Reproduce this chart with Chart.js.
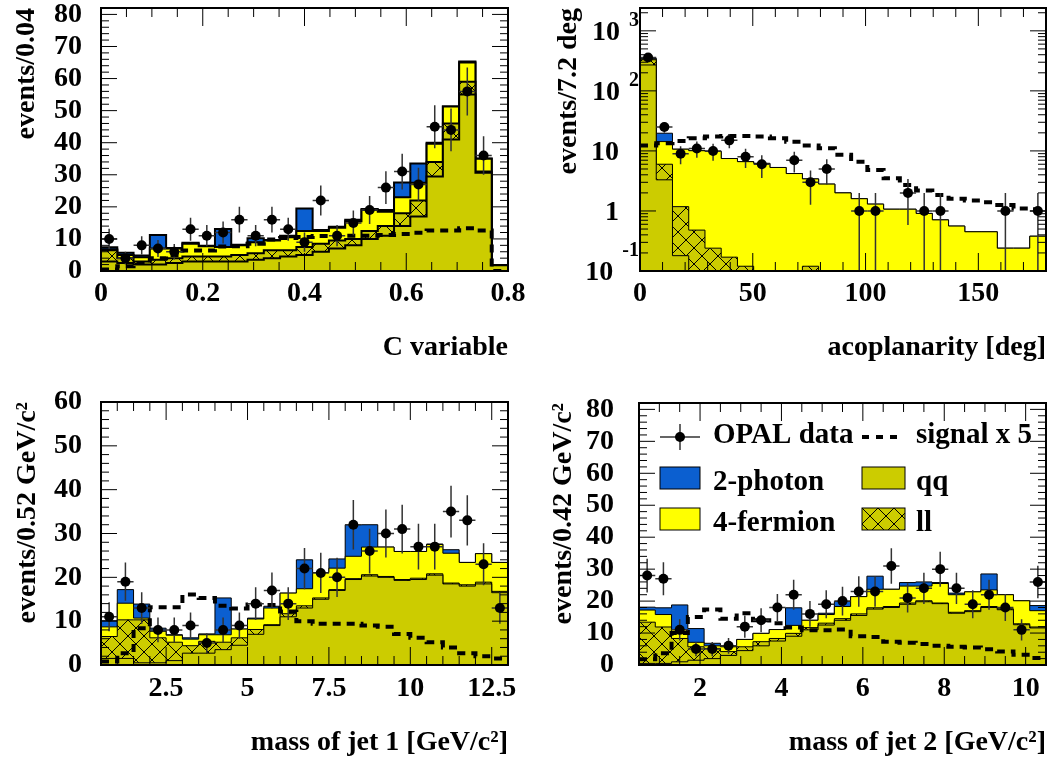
<!DOCTYPE html>
<html>
<head>
<meta charset="utf-8">
<script src="https://cdn.jsdelivr.net/npm/chart.js@4.4.1/dist/chart.umd.min.js"></script>
<style>
  body { margin: 0; background: #fff; }
  #fig { position: relative; width: 1052px; height: 761px; }
  #fig canvas { position: absolute; }
</style>
</head>
<body>
<div id="fig">
  <canvas id="cChart" width="526" height="380" style="left:0;top:0"></canvas>
  <canvas id="aChart" width="526" height="380" style="left:526px;top:0"></canvas>
  <canvas id="j1Chart" width="526" height="381" style="left:0;top:380px"></canvas>
  <canvas id="j2Chart" width="526" height="381" style="left:526px;top:380px"></canvas>
</div>
<script>
// ---- C variable (25 bins of 0.032) ----
const cLo = 0, cW = 0.032;
const cQQ = [3.0, 2.5, 2.0, 2.0, 2.5, 3.0, 3.0, 3.0, 3.0, 3.5, 4.0, 4.5, 5.0, 6.0, 7.0, 8.0, 10.0, 11.0, 14.0, 17.0, 29.5, 41.0, 55.0, 30.6, 1.8];
const cLL = [3.5, 1.5, 1.0, 1.5, 1.5, 1.5, 1.5, 1.5, 2.0, 2.0, 2.5, 2.0, 2.5, 2.5, 2.5, 2.0, 2.5, 3.0, 4.0, 5.0, 4.5, 5.0, 4.0, 0.4, 0];
const c4F = [0.3, 1.0, 1.3, 3.5, 3.0, 4.0, 3.2, 3.0, 3.0, 3.5, 3.0, 4.0, 5.0, 4.0, 4.0, 5.5, 6.5, 4.5, 5.0, 5.5, 5.7, 5.3, 6.0, 4.0, 0];
const c2G = [0.6, 0.7, 0.5, 4.2, 0.2, 0.3, 0.2, 5.6, 0.2, 1.2, 0.2, 0.5, 7.0, 0.3, 0.3, 0.5, 0.3, 0.5, 4.6, 6.0, 0.3, 0, 0.3, 0.1, 0];
const cSignal = [0.5, 1.5, 2.5, 4.0, 5.0, 6.4, 6.4, 7.6, 7.7, 8.5, 9.8, 10.3, 10.6, 10.9, 11.0, 11.0, 11.0, 11.2, 11.5, 11.9, 12.6, 12.6, 13.3, 12.6, 0];
const cData = [10, 4, 8, 7, 6, 13, 11, 12, 16, 11, 16, 13, 9, 22, 11, 15, 19, 26, 31, 27, 45, 44, 56, 36, 0];
const cXTicks = [0, 0.2, 0.4, 0.6, 0.8];
const cXLabels = ['0', '0.2', '0.4', '0.6', '0.8'];
const cYTicks = [0, 10, 20, 30, 40, 50, 60, 70, 80];
const cYLabels = ['0', '10', '20', '30', '40', '50', '60', '70', '80'];

// ---- acoplanarity (25 bins of 7.2 deg, log y) ----
const aLo = 0, aW = 7.2;
const aQQ = [270, 3.3, 0.18, 0, 0, 0, 0, 0, 0, 0, 0, 0, 0, 0, 0, 0, 0, 0, 0, 0, 0, 0, 0, 0, 0];
const aLL = [60, 2.7, 1.0, 0.48, 0.24, 0.17, 0.12, 0, 0, 0, 0.12, 0, 0, 0, 0, 0, 0, 0, 0, 0, 0, 0, 0, 0, 0];
const a4F = [10, 8.3, 9.5, 9.6, 9.6, 7.3, 6.5, 6.2, 5.3, 4.2, 3.3, 2.8, 2.0, 1.6, 1.3, 1.07, 1.07, 0.91, 0.71, 0.56, 0.45, 0.45, 0.24, 0.24, 0.38];
const a2G = [10, 5.4, 0, 0, 0, 0, 0, 0, 0, 0, 0, 0, 0, 0, 0, 0, 0, 0, 0, 0, 0, 0, 0, 0, 0];
const aSignal = [12.3, 13.4, 14.6, 16.3, 17.3, 17.8, 17.8, 17.3, 16.3, 14.2, 12.3, 11.1, 8.6, 6.6, 4.8, 3.5, 2.7, 2.2, 1.85, 1.6, 1.5, 1.4, 1.26, 1.1, 1.07];
const aData = [360, 25, 9, 11, 10, 15, 8, 6, 0, 7, 3, 5, 0, 1, 1, 0, 2, 1, 1, 0, 0, 0, 1, 0, 1];
const aXTicks = [0, 50, 100, 150];
const aXLabels = ['0', '50', '100', '150'];
const aYTicks = [0.1, 1, 10, 100, 1000];
const aYLabels = ['10^-1', '1', '10', '10^2', '10^3'];

// ---- mass of jet 1 (25 bins of 0.5) ----
const j1Lo = 0.5, j1W = 0.5;
const j1QQ = [1.5, 1.5, 0.5, 0.5, 1.0, 2.7, 2.7, 3.5, 4.5, 7.0, 9.0, 11.0, 13.0, 15.0, 17.0, 19.5, 20.3, 20.0, 19.3, 19.5, 20.5, 18.5, 18.0, 18.5, 16.5];
const j1LL = [5.0, 8.8, 9.8, 5.7, 4.2, 1.7, 2.7, 1.7, 1.7, 1.1, 0.2, 0.7, 0.5, 0.3, 0.2, 0.2, 0.3, 0.2, 0.2, 0.3, 0.3, 0.2, 0.3, 0.4, 0.3];
const j14F = [2.2, 3.8, 0.4, 1.5, 1.6, 1.5, 1.5, 1.7, 2.0, 2.4, 3.8, 4.7, 3.9, 5.8, 4.9, 5.1, 6.3, 6.7, 6.4, 6.1, 6.7, 6.8, 5.1, 6.5, 6.6];
const j12G = [1.4, 3.1, 3.2, 0.7, 0.1, 0.3, 0.2, 8.4, 0, 0.2, 0.4, 0, 6.6, 0, 2.1, 7.2, 5.1, 0, 0, 0, 0.1, 0.8, 0, 0, 0];
const j1Signal = [0.8, 2.7, 8.4, 13.2, 13.2, 16.1, 15.3, 13.5, 12.9, 13.8, 13.7, 12.2, 10.0, 9.4, 9.4, 9.4, 9.0, 8.7, 7.1, 6.2, 5.2, 4.0, 2.7, 2.0, 1.5];
const j1Data = [11, 19, 13, 8, 8, 9, 5, 8, 9, 14, 17, 14, 22, 21, 20, 32, 26, 30, 31, 27, 27, 35, 33, 23, 13];
const j1XTicks = [2.5, 5, 7.5, 10, 12.5];
const j1XLabels = ['2.5', '5', '7.5', '10', '12.5'];
const j1YTicks = [0, 10, 20, 30, 40, 50, 60];
const j1YLabels = ['0', '10', '20', '30', '40', '50', '60'];

// ---- mass of jet 2 (25 bins of 0.4) ----
const j2Lo = 0.5, j2W = 0.4;
const j2QQ = [0.5, 0.5, 1.0, 1.5, 2.0, 3.0, 4.5, 6.0, 7.5, 9.0, 11.0, 12.5, 14.0, 15.5, 17.5, 18.0, 19.0, 19.8, 19.2, 16.2, 16.7, 18.0, 17.3, 12.6, 11.6];
const j2LL = [12.9, 11.4, 7.3, 4.2, 3.2, 1.2, 1.2, 1.3, 0.8, 0.9, 0.7, 0.6, 0.5, 0.5, 0.4, 0.3, 0.4, 0.3, 0.2, 0.3, 0.3, 0.3, 0.3, 0.3, 0.3];
const j24F = [3.8, 3.9, 2.8, 1.4, 0.8, 1.5, 2.3, 2.6, 2.8, 2.5, 2.3, 2.7, 3.8, 5.4, 5.8, 5.4, 5.3, 4.6, 6.1, 5.5, 5.9, 5.2, 4.4, 7.2, 5.1];
const j22G = [0.9, 2.1, 7.7, 4.3, 0.8, 0, 0, 0, 0, 5.5, 0, 0.4, 1.6, 0, 4.1, 0, 1.1, 1.3, 0.3, 0.5, 0, 5.0, 0, 0, 1.6];
const j2Signal = [1.8, 3.7, 10.0, 15.0, 17.4, 14.5, 16.2, 14.0, 13.1, 11.7, 10.9, 10.9, 11.1, 9.0, 8.8, 7.3, 7.0, 6.6, 6.0, 5.7, 5.5, 4.9, 4.2, 3.2, 2.2];
const j2Data = [28, 27, 11, 5, 5, 6, 12, 14, 18, 22, 16, 19, 20, 23, 23, 31, 21, 24, 30, 24, 19, 22, 18, 11, 26];
const j2XTicks = [2, 4, 6, 8, 10];
const j2XLabels = ['2', '4', '6', '8', '10'];
const j2YTicks = [0, 10, 20, 30, 40, 50, 60, 70, 80];
const j2YLabels = ['0', '10', '20', '30', '40', '50', '60', '70', '80'];

const legendLabels = ['OPAL data', 'signal x 5', '2-photon', 'qq', '4-fermion', 'll'];

const FONT = 'Liberation Serif';
const OLIVE = '#cccc00', YELLOW = '#ffff00', BLUE = '#0b5fd0';

// cross hatch used for the ll background
function makeHatch() {
  const t = document.createElement('canvas');
  t.width = t.height = 16;
  const g = t.getContext('2d');
  g.fillStyle = OLIVE;
  g.fillRect(0, 0, 16, 16);
  g.strokeStyle = '#000';
  g.lineWidth = 1;
  g.beginPath();
  g.moveTo(0, 0); g.lineTo(16, 16);
  g.moveTo(16, 0); g.lineTo(0, 16);
  g.stroke();
  return g.createPattern(t, 'repeat');
}
const HATCH = makeHatch();

// sqrt(N) error bars, drawn just under the data markers
const errorBars = {
  id: 'errorBars',
  beforeDatasetDraw(chart, args) {
    const ds = chart.data.datasets[args.index];
    if (!ds.errorBars) return;
    const {ctx, chartArea: a, scales: {x, y}} = chart;
    ctx.save();
    ctx.beginPath();
    ctx.rect(a.left, a.top, a.right - a.left, a.bottom - a.top);
    ctx.clip();
    ctx.strokeStyle = '#333';
    ctx.lineWidth = 1.5;
    ds.data.forEach(d => {
      if (d.y == null) return;
      const e = Math.sqrt(d.y);
      const px = x.getPixelForValue(d.x), py = y.getPixelForValue(d.y);
      const hi = y.getPixelForValue(d.y + e);
      const lo = d.y - e > y.min ? y.getPixelForValue(d.y - e) : a.bottom;
      ctx.beginPath();
      ctx.moveTo(px, hi); ctx.lineTo(px, lo);
      ctx.moveTo(x.getPixelForValue(d.x - ds.binW / 2), py);
      ctx.lineTo(x.getPixelForValue(d.x + ds.binW / 2), py);
      ctx.stroke();
    });
    ctx.restore();
  }
};

// frame with inward ticks on all four sides
const rootFrame = {
  id: 'rootFrame',
  afterDraw(chart, args, o) {
    const {ctx, chartArea: a, scales: {x, y}} = chart;
    ctx.save();
    ctx.strokeStyle = '#000';
    ctx.lineWidth = 1;
    ctx.beginPath();
    const xt = (v, len) => {
      const p = x.getPixelForValue(v);
      ctx.moveTo(p, a.bottom); ctx.lineTo(p, a.bottom - len);
      ctx.moveTo(p, a.top); ctx.lineTo(p, a.top + len);
    };
    const yt = (v, len) => {
      const p = y.getPixelForValue(v);
      ctx.moveTo(a.left, p); ctx.lineTo(a.left + len, p);
      ctx.moveTo(a.right, p); ctx.lineTo(a.right - len, p);
    };
    const near = (v, list, s) => list.some(t => Math.abs(t - v) < s * 1e-3);
    o.xTicks.forEach(v => xt(v, 18));
    for (let k = Math.ceil(x.min / o.xMinor - 1e-6); k * o.xMinor <= x.max + 1e-9; k++) {
      const v = k * o.xMinor;
      if (!near(v, o.xTicks, o.xMinor)) xt(v, 9);
    }
    o.yTicks.forEach(v => yt(v, 16));
    if (o.log) {
      for (let d = -1; d <= 3; d++) {
        for (let m = 2; m <= 9; m++) {
          const v = m * Math.pow(10, d);
          if (v <= y.max) yt(v, 8);
        }
      }
    } else {
      for (let k = 0; k * o.yMinor <= y.max + 1e-9; k++) {
        const v = k * o.yMinor;
        if (!near(v, o.yTicks, o.yMinor)) yt(v, 8);
      }
    }
    ctx.stroke();
    ctx.lineWidth = 2;
    ctx.strokeRect(a.left, a.top, a.right - a.left, a.bottom - a.top);
    ctx.restore();
  }
};

// log axis labels written as 10 with a raised exponent
const powerLabels = {
  id: 'powerLabels',
  afterDraw(chart, args, o) {
    if (!o.labels) return;
    const {ctx, chartArea: a, scales: {y}} = chart;
    ctx.save();
    ctx.fillStyle = '#000';
    ctx.textAlign = 'right';
    ctx.textBaseline = 'middle';
    o.ticks.forEach((v, i) => {
      const py = y.getPixelForValue(v);
      const [base, exp] = o.labels[i].split('^');
      if (exp === undefined) {
        ctx.font = `bold 28px "${FONT}"`;
        ctx.fillText(base, a.left - 21, py + 2);
        return;
      }
      ctx.font = `bold 20px "${FONT}"`;
      const ew = ctx.measureText(exp).width;
      ctx.fillText(exp, a.left - 1, py - (exp[0] === '-' ? 20 : 10));
      ctx.font = `bold 28px "${FONT}"`;
      ctx.fillText(base, a.left - 1 - ew - 9, py + 2);
    });
    ctx.restore();
  }
};

// legend drawn inside the jet 2 frame
const rootLegend = {
  id: 'rootLegend',
  afterDraw(chart) {
    const {ctx, chartArea: a} = chart;
    const x1 = a.left + 21, x2 = a.left + 223;
    const r1 = a.top + 34, r2 = a.top + 75, r3 = a.top + 116;
    ctx.save();
    // data marker
    ctx.strokeStyle = '#333';
    ctx.lineWidth = 1.5;
    ctx.beginPath();
    ctx.moveTo(x1, r1); ctx.lineTo(x1 + 40, r1);
    ctx.moveTo(x1 + 20, r1 - 13); ctx.lineTo(x1 + 20, r1 + 13);
    ctx.stroke();
    ctx.fillStyle = '#000';
    ctx.beginPath();
    ctx.arc(x1 + 20, r1, 5, 0, Math.PI * 2);
    ctx.fill();
    // signal
    ctx.strokeStyle = '#000';
    ctx.lineWidth = 4;
    ctx.setLineDash([7, 7]);
    ctx.beginPath();
    ctx.moveTo(x2, r1); ctx.lineTo(x2 + 36, r1);
    ctx.stroke();
    ctx.setLineDash([]);
    // boxes
    ctx.lineWidth = 1;
    const box = (bx, cy, w, fill) => {
      ctx.fillStyle = fill;
      ctx.fillRect(bx, cy - 11, w, 22);
      ctx.strokeRect(bx, cy - 11, w, 22);
    };
    box(x1, r2, 40, BLUE);
    box(x2, r2, 43, OLIVE);
    box(x1, r3, 40, YELLOW);
    box(x2, r3, 43, HATCH);
    ctx.fillStyle = '#000';
    ctx.font = `bold 29px "${FONT}"`;
    ctx.textBaseline = 'alphabetic';
    ctx.fillText(legendLabels[0], a.left + 74, a.top + 40);
    ctx.fillText(legendLabels[1], a.left + 277, a.top + 40);
    ctx.fillText(legendLabels[2], a.left + 74, a.top + 87);
    ctx.fillText(legendLabels[3], a.left + 277, a.top + 87);
    ctx.fillText(legendLabels[4], a.left + 74, a.top + 128);
    ctx.fillText(legendLabels[5], a.left + 277, a.top + 128);
    ctx.restore();
  }
};

const panels = [
  {id: 'cChart', lo: cLo, w: cW, layers: [cQQ, cLL, c4F, c2G], sig: cSignal, obs: cData,
   xMin: 0, xMax: 0.8, yMin: 0, yMax: 82, log: false,
   xTicks: cXTicks, xLabels: cXLabels, yTicks: cYTicks, yLabels: cYLabels, xMinor: 0.05, yMinor: 2,
   xTitle: 'C variable', yTitle: 'events/0.04', line: 2,
   box: {yw: 101, right: 18, top: 8, xh: 109, yTitlePad: 10, xTitlePad: 15, yTickPad: 19, xTickPad: 6}},
  {id: 'aChart', lo: aLo, w: aW, layers: [aQQ, aLL, a4F, a2G], sig: aSignal, obs: aData,
   xMin: 0, xMax: 180, yMin: 0.1, yMax: 2400, log: true,
   xTicks: aXTicks, xLabels: aXLabels, yTicks: aYTicks, yLabels: aYLabels, xMinor: 10, yMinor: 0,
   xTitle: 'acoplanarity [deg]', yTitle: 'events/7.2 deg', line: 1,
   box: {yw: 114, right: 6, top: 8, xh: 109, yTitlePad: 26, xTitlePad: 15, yTickPad: 21, xTickPad: 6}},
  {id: 'j1Chart', lo: j1Lo, w: j1W, layers: [j1QQ, j1LL, j14F, j12G], sig: j1Signal, obs: j1Data,
   xMin: 0.5, xMax: 13.0, yMin: 0, yMax: 60, log: false,
   xTicks: j1XTicks, xLabels: j1XLabels, yTicks: j1YTicks, yLabels: j1YLabels, xMinor: 0.5, yMinor: 2,
   xTitle: 'mass of jet 1 [GeV/c²]', yTitle: 'events/0.52 GeV/c²', line: 1,
   box: {yw: 101, right: 18, top: 22, xh: 96, yTitlePad: 11, xTitlePad: 1, yTickPad: 19, xTickPad: 7}},
  {id: 'j2Chart', lo: j2Lo, w: j2W, layers: [j2QQ, j2LL, j24F, j22G], sig: j2Signal, obs: j2Data,
   xMin: 0.5, xMax: 10.5, yMin: 0, yMax: 82, log: false, legend: true,
   xTicks: j2XTicks, xLabels: j2XLabels, yTicks: j2YTicks, yLabels: j2YLabels, xMinor: 0.5, yMinor: 2,
   xTitle: 'mass of jet 2 [GeV/c²]', yTitle: 'events/0.42 GeV/c²', line: 1,
   box: {yw: 113, right: 6, top: 23, xh: 96, yTitlePad: 21, xTitlePad: 1, yTickPad: 25, xTickPad: 7}}
];

// the scales must not push the plot frame away from the fixed box
function pinScale(s, size) {
  if (s.isHorizontal()) s.height = size; else s.width = size;
  s.paddingTop = s.paddingBottom = s.paddingLeft = s.paddingRight = 0;
}

function makeChart(p) {
  const n = p.obs.length;
  const edges = [];
  for (let i = 0; i <= n; i++) edges.push(p.lo + i * p.w);
  const floor = p.log ? 1e-3 : 0;
  const steps = vals => edges.map((x, i) => ({x, y: Math.max(vals[Math.min(i, n - 1)], floor)}));

  // stack bottom -> top: qq, ll, 4-fermion, 2-photon
  const fills = [OLIVE, HATCH, YELLOW, BLUE];
  let run = new Array(n).fill(0);
  const hists = p.layers.map((layer, k) => {
    run = run.map((v, i) => v + layer[i]);
    return {
      data: steps(run), stepped: true, fill: 'start', backgroundColor: fills[k],
      borderColor: '#000', borderWidth: p.line, pointRadius: 0, order: 2 + k
    };
  });
  const signal = {
    data: steps(p.sig), stepped: true, fill: false, borderColor: '#000',
    borderWidth: 4, borderDash: [8, 6], pointRadius: 0, order: 1
  };
  const data = {
    data: p.obs.map((v, i) => ({x: p.lo + (i + 0.5) * p.w, y: v > 0 ? v : null})),
    showLine: false, pointRadius: 5, pointBackgroundColor: '#000', pointBorderWidth: 0,
    order: 0, errorBars: true, binW: p.w
  };

  const font = size => ({family: FONT, weight: 'bold', size});
  const plugins = [errorBars, rootFrame, powerLabels];
  if (p.legend) plugins.push(rootLegend);

  return new Chart(document.getElementById(p.id), {
    type: 'line',
    data: {datasets: [data, signal, ...hists]},
    plugins,
    options: {
      responsive: false,
      animation: false,
      events: [],
      layout: {autoPadding: false, padding: {left: 0, right: p.box.right, top: p.box.top, bottom: 0}},
      plugins: {
        legend: {display: false},
        tooltip: {enabled: false},
        rootFrame: {xTicks: p.xTicks, yTicks: p.yTicks, xMinor: p.xMinor, yMinor: p.yMinor, log: p.log},
        powerLabels: p.log ? {ticks: p.yTicks, labels: p.yLabels} : {}
      },
      scales: {
        x: {
          type: 'linear', min: p.xMin, max: p.xMax,
          grid: {display: false, drawTicks: false}, border: {display: false},
          afterBuildTicks: s => { s.ticks = p.xTicks.map(value => ({value})); },
          afterFit: s => pinScale(s, p.box.xh),
          ticks: {padding: p.box.xTickPad, color: '#000', font: font(28), maxRotation: 0, autoSkip: false,
                  callback: (v, i) => p.xLabels[i]},
          title: {display: true, text: p.xTitle, align: 'end', color: '#000', font: font(28),
                  padding: {top: 0, bottom: p.box.xTitlePad}}
        },
        y: {
          type: p.log ? 'logarithmic' : 'linear', min: p.yMin, max: p.yMax,
          grid: {display: false, drawTicks: false}, border: {display: false},
          afterBuildTicks: s => { s.ticks = p.yTicks.map(value => ({value})); },
          afterFit: s => pinScale(s, p.box.yw),
          ticks: {display: !p.log, padding: p.box.yTickPad, color: '#000', font: font(28), autoSkip: false,
                  callback: (v, i) => p.yLabels[i]},
          title: {display: true, text: p.yTitle, align: 'end', color: '#000', font: font(28),
                  padding: {top: p.box.yTitlePad, bottom: 0}}
        }
      }
    }
  });
}

panels.forEach(makeChart);
</script>
</body>
</html>
